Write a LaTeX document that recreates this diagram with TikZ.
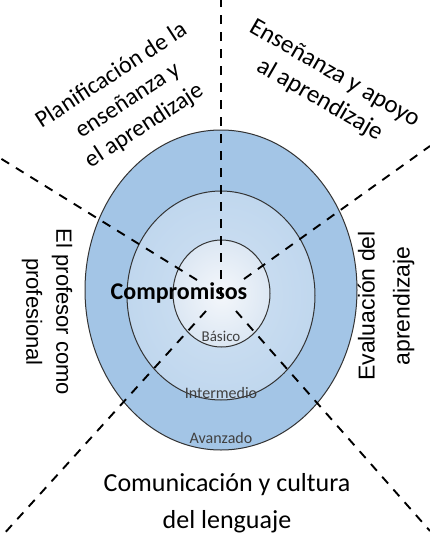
\documentclass[tikz,border=0pt]{standalone}
\usepackage{fontspec}
\setmainfont{Carlito}
\newfontfamily\arialf{Liberation Sans}
\usetikzlibrary{shapes.geometric}
\definecolor{outB}{HTML}{A3C5E6}
\definecolor{outA}{HTML}{A3C5E6}
\definecolor{midA}{HTML}{D0E1F2}
\definecolor{midB}{HTML}{C0D7EE}
\definecolor{innA}{HTML}{F4F7FB}
\definecolor{innB}{HTML}{DCE7F3}
\begin{document}
\begin{tikzpicture}[x=1pt,y=-1pt,
  dashline/.style={draw=black, line width=1.9pt, dash pattern=on 9pt off 8pt},
  ring/.style={ellipse, draw=black!80, line width=1pt, inner sep=0pt},
  lbl/.style={align=center, inner sep=0pt, text=black},
  lvl/.style={font=\fontsize{16}{18}\selectfont, text=black!75, inner sep=0pt}]
\useasboundingbox (0,0) rectangle (430,536);
\fill[white] (0,0) rectangle (430,536);
\begin{scope}
\clip (0,0) rectangle (430,536);
\node[ring, minimum width=272pt, minimum height=320pt, shade, inner color=outA, outer color=outB] (outer) at (221,290) {};
\node[ring, minimum width=188pt, minimum height=209pt, shade, inner color=midA, outer color=midB] (middle) at (221,295.5) {};
\node[ring, minimum width=97pt, minimum height=107pt, shade, inner color=innA, outer color=innB] (inner) at (221.5,293.5) {};
\coordinate (c) at (221,296);
\coordinate (ulS) at (197,280);
\coordinate (urS) at (244,279);
\coordinate (llS) at (206,311);
\coordinate (lrS) at (236,311);
\coordinate (topE) at (221,0);
\coordinate (ulE) at (0,158);
\coordinate (urE) at (430,146);
\coordinate (llE) at (2,536);
\coordinate (lrE) at (430,531);
\draw[dashline] (c) -- (topE);
\draw[dashline] (ulS) -- (ulE);
\draw[dashline] (urS) -- (urE);
\draw[dashline] (llS) -- (llE);
\draw[dashline] (lrS) -- (lrE);
\end{scope}
\node[lbl, rotate=33, font=\fontsize{24}{30}\selectfont] (plan) at (128,101) {Planificación de la\\enseñanza y\\el aprendizaje};
\node[lbl, rotate=-30, font=\fontsize{25}{30}\selectfont] (ense) at (327,87) {Enseñanza y apoyo\\al aprendizaje};
\node[lbl, rotate=-90, font=\arialf\fontsize{22}{30}\selectfont] (prof) at (47,312) {El profesor como\\profesional};
\node[lbl, rotate=90, font=\arialf\fontsize{23}{35}\selectfont] (eval) at (386,306) {Evaluación del\\aprendizaje};
\node[lbl, font=\fontsize{26}{37}\selectfont] (comu) at (227,503) {Comunicación y cultura\\del lenguaje};
\node[inner sep=0pt, font=\bfseries\fontsize{24}{28}\selectfont] (comp) at (179,293) {Compromisos};
\node[lvl, font=\fontsize{15}{17}\selectfont] (bas) at (221,336) {Básico};
\node[lvl] (int) at (221,393) {Intermedio};
\node[lvl] (ava) at (221,438) {Avanzado};
\end{tikzpicture}
\end{document}
